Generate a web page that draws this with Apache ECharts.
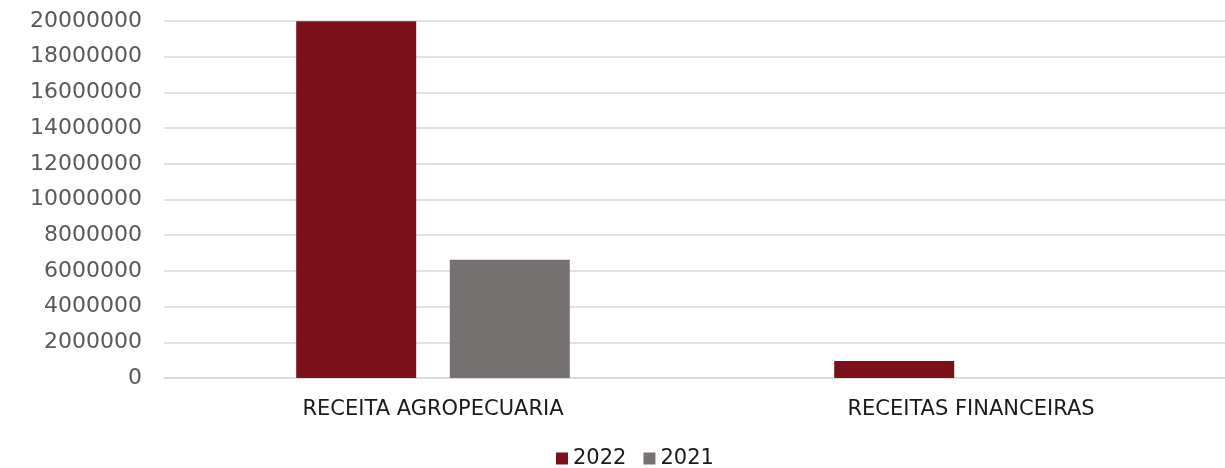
<!DOCTYPE html>
<html><head><meta charset="utf-8">
<script src="https://cdn.jsdelivr.net/npm/echarts@6/dist/echarts.min.js"></script>
<style>html,body{margin:0;padding:0;background:#fff;overflow:hidden;width:1225px;height:468px}#c{width:1250px;height:468px}</style>
</head><body><div id="c"></div>
<script>
const categories = ['RECEITA AGROPECUARIA', 'RECEITAS FINANCEIRAS'];
const series2022 = [19980000, 950000];
const series2021 = [6630000, 0];
const yTicks = {min: 0, max: 20000000, interval: 2000000};

const chart = echarts.init(document.getElementById('c'));
chart.setOption({
  animation: false,
  grid: {left: 164, top: 21, width: 1076, height: 357, containLabel: false},
  legend: {
    bottom: -6, left: 551, itemWidth: 12, itemHeight: 12, itemGap: 17,
    icon: 'rect',
    textStyle: {fontFamily: 'DejaVu Sans', fontSize: 21, color: '#1a1a1a', padding: [0,0,0,0]},
    data: ['2022', '2021']
  },
  xAxis: {
    type: 'category', data: categories,
    axisLine: {lineStyle: {color: '#d9d9d9', width: 1.5}},
    axisTick: {show: false},
    axisLabel: {fontFamily: 'DejaVu Sans', fontSize: 21, color: '#1a1a1a', margin: 21}
  },
  yAxis: {
    type: 'value', min: yTicks.min, max: yTicks.max, interval: yTicks.interval,
    axisLine: {show: false}, axisTick: {show: false},
    splitLine: {lineStyle: {color: '#d9d9d9', width: 1.5}},
    axisLabel: {fontFamily: 'DejaVu Sans', fontSize: 22, color: '#595959', margin: 22,
      formatter: v => String(v)}
  },
  series: [
    {name: '2022', type: 'bar', data: series2022, barWidth: 120, barGap: '28%',
     itemStyle: {color: '#7B0F1A'}},
    {name: '2021', type: 'bar', data: series2021, barWidth: 120,
     itemStyle: {color: '#767171'}}
  ]
});
</script></body></html>
